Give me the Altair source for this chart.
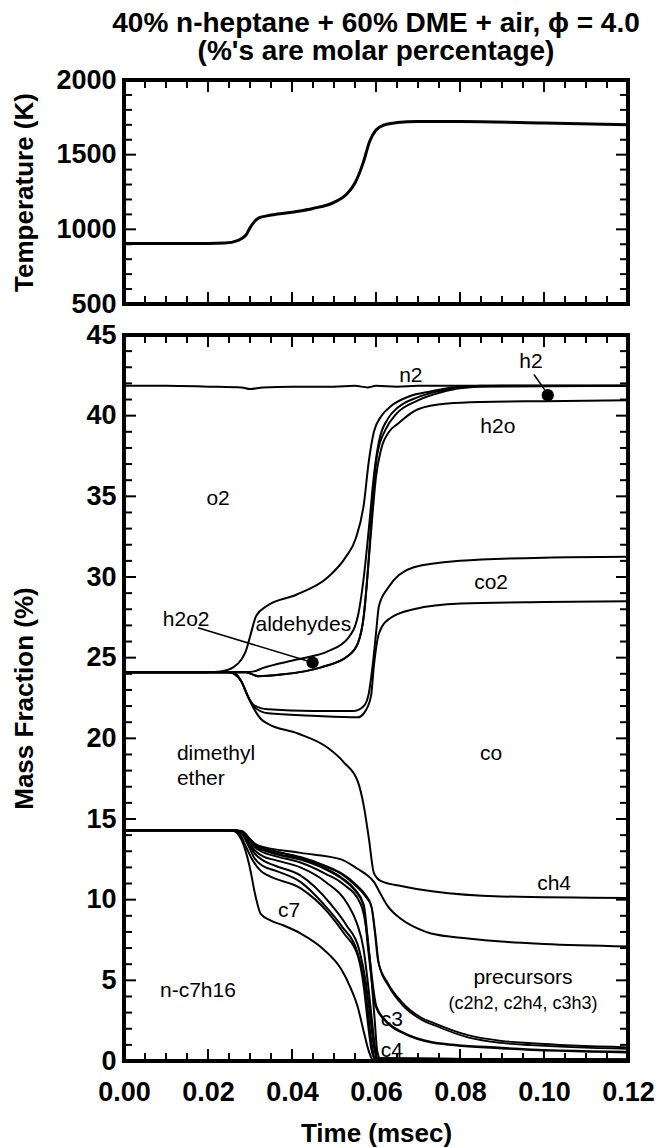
import altair as alt
import pandas as pd

W, H_TOP, H_BOT = 504, 224, 726
FONT = "Liberation Sans"

# ---------------- top panel: temperature ----------------
TEMP = [(0.0, 905), (0.020, 905), (0.024, 908), (0.027, 925), (0.029, 960), (0.030, 1010),
        (0.031, 1050), (0.032, 1075), (0.034, 1090), (0.040, 1115), (0.045, 1140),
        (0.050, 1180), (0.053, 1235), (0.055, 1310), (0.057, 1450), (0.0585, 1590),
        (0.060, 1665), (0.062, 1700), (0.065, 1715), (0.070, 1722), (0.080, 1722),
        (0.100, 1712), (0.120, 1700)]

# ---------------- bottom panel: cumulative mass fractions ----------------
N2 = [(0, 41.85), (0.010, 41.85), (0.020, 41.8), (0.028, 41.75), (0.030, 41.65), (0.033, 41.75),
      (0.040, 41.8), (0.050, 41.8), (0.055, 41.85), (0.058, 41.75), (0.060, 41.85), (0.065, 41.8),
      (0.070, 41.85), (0.080, 41.85), (0.100, 41.85), (0.120, 41.85)]
O2_LOW = [(0, 24.1), (0.020, 24.1), (0.023, 24.15), (0.026, 24.4), (0.028, 24.9), (0.029, 25.4),
          (0.030, 26.3), (0.0315, 27.6), (0.034, 28.2), (0.041, 28.9), (0.0486, 30.0), (0.0527, 31.2),
          (0.0552, 32.4), (0.0571, 34.5), (0.0583, 37.2), (0.0595, 39.0), (0.0612, 39.95),
          (0.0636, 40.6), (0.068, 41.2), (0.073, 41.5), (0.077, 41.7), (0.080, 41.8), (0.120, 41.85)]
ALD_LOW = [(0, 24.1), (0.029, 24.1), (0.031, 24.15), (0.033, 24.35), (0.0414, 24.9), (0.0486, 25.4),
           (0.0533, 26.2), (0.0557, 27.6), (0.0571, 30.0), (0.0583, 33.0), (0.0595, 36.3),
           (0.0607, 38.4), (0.0628, 39.8), (0.0652, 40.5), (0.070, 41.15), (0.0755, 41.55),
           (0.080, 41.75), (0.085, 41.85), (0.120, 41.85)]
H2_LOW = [(0, 24.1), (0.029, 24.1), (0.0319, 23.85), (0.0374, 23.95), (0.0469, 24.4), (0.0533, 25.1),
          (0.0557, 25.9), (0.0571, 27.6), (0.0581, 30.5), (0.0592, 34.8), (0.0603, 37.6),
          (0.0624, 39.2), (0.0648, 40.1), (0.070, 40.95), (0.0755, 41.45), (0.080, 41.7),
          (0.090, 41.85), (0.120, 41.85)]
H2O_TOP = [(0, 24.1), (0.029, 24.1), (0.0319, 23.85), (0.0374, 23.95), (0.0469, 24.4), (0.0533, 25.1),
           (0.0557, 25.9), (0.0571, 27.6), (0.0581, 30.5), (0.0593, 34.3), (0.060, 36.2),
           (0.0612, 37.9), (0.0631, 39.0), (0.0652, 39.5), (0.070, 40.4), (0.0771, 40.75),
           (0.085, 40.85), (0.100, 40.9), (0.120, 40.95)]
CO2_TOP = [(0, 24.1), (0.025, 24.1), (0.0265, 24.0), (0.028, 23.5), (0.0295, 22.6), (0.031, 22.05),
           (0.0343, 21.8), (0.045, 21.7), (0.0548, 21.7), (0.0571, 22.0), (0.0583, 22.8),
           (0.0592, 24.5), (0.060, 26.5), (0.0607, 28.2), (0.0628, 29.3), (0.069, 30.6),
           (0.080, 31.0), (0.100, 31.2), (0.120, 31.25)]
CO_TOP = [(0, 24.1), (0.025, 24.1), (0.0265, 24.0), (0.028, 23.5), (0.0295, 22.6), (0.031, 21.95),
          (0.0343, 21.55), (0.045, 21.4), (0.0557, 21.3), (0.0571, 21.55), (0.0588, 22.6),
          (0.0595, 24.5), (0.0607, 26.5), (0.0631, 27.4), (0.069, 28.0), (0.0802, 28.35),
          (0.100, 28.45), (0.120, 28.5)]
CH4_TOP = [(0, 24.1), (0.025, 24.1), (0.0262, 24.0), (0.028, 23.5), (0.0295, 22.6), (0.0302, 22.2),
           (0.0326, 21.2), (0.0343, 20.9), (0.0414, 20.3), (0.0486, 19.4), (0.0524, 18.5),
           (0.0557, 17.3), (0.0571, 15.8), (0.0583, 13.8), (0.0595, 11.65), (0.0612, 11.15),
           (0.066, 10.85), (0.0738, 10.5), (0.0898, 10.2), (0.120, 10.1)]
PREC_TOP = [(0, 14.3), (0.026, 14.3), (0.028, 14.25), (0.0295, 13.9), (0.0302, 13.6), (0.032, 13.35),
            (0.0421, 12.9), (0.0517, 12.5), (0.0557, 11.9), (0.0575, 11.6), (0.0595, 11.1),
            (0.0612, 10.3), (0.0628, 9.6), (0.066, 8.8), (0.070, 8.2), (0.0731, 7.9),
            (0.0819, 7.6), (0.0898, 7.4), (0.100, 7.25), (0.120, 7.1)]
C3_TOP_A = [(0, 14.3), (0.026, 14.3), (0.028, 14.2), (0.0295, 13.9), (0.031, 13.5), (0.033, 13.2),
            (0.036, 13.0), (0.042, 12.65), (0.048, 12.1), (0.052, 11.6), (0.055, 11.0),
            (0.0575, 10.3), (0.0588, 9.7), (0.0597, 8.0), (0.0605, 6.2), (0.0629, 4.8),
            (0.066, 3.7), (0.0707, 2.7), (0.0738, 2.35), (0.0819, 1.6), (0.0898, 1.25),
            (0.097, 1.1), (0.120, 0.85)]
C3_TOP_B = [(0, 14.3), (0.026, 14.3), (0.028, 14.2), (0.0295, 13.9), (0.031, 13.5), (0.033, 13.2),
            (0.036, 13.0), (0.042, 12.6), (0.048, 12.05), (0.052, 11.55), (0.055, 10.9),
            (0.0575, 10.2), (0.0590, 9.5), (0.0599, 7.8), (0.0607, 6.0), (0.0631, 4.6),
            (0.0662, 3.5), (0.0709, 2.55), (0.0740, 2.2), (0.0821, 1.45), (0.0900, 1.12),
            (0.097, 0.98), (0.120, 0.75)]
C4_TOP = [(0, 14.3), (0.026, 14.3), (0.028, 14.2), (0.0295, 13.85), (0.031, 13.4), (0.033, 13.1),
          (0.036, 12.85), (0.042, 12.5), (0.048, 11.9), (0.052, 11.3), (0.055, 10.6), (0.057, 9.7),
          (0.0583, 6.7), (0.0600, 3.4), (0.0619, 2.6), (0.0640, 2.1), (0.066, 1.8), (0.0735, 1.15),
          (0.090, 0.8), (0.120, 0.55)]
B6 = [(0, 14.3), (0.026, 14.3), (0.028, 14.2), (0.0295, 13.8), (0.031, 13.3), (0.033, 12.95),
      (0.036, 12.7), (0.042, 12.3), (0.048, 11.6), (0.052, 11.0), (0.0564, 9.7), (0.0578, 8.0),
      (0.0588, 5.5), (0.0597, 2.5), (0.0603, 0.6), (0.061, 0.15), (0.120, 0.08)]
B5 = [(0, 14.3), (0.026, 14.3), (0.028, 14.2), (0.0295, 13.7), (0.031, 13.1), (0.033, 12.7),
      (0.036, 12.45), (0.042, 12.0), (0.048, 11.1), (0.0533, 9.7), (0.0555, 8.5), (0.057, 7.0),
      (0.058, 5.0), (0.059, 2.6), (0.0598, 0.8), (0.0605, 0.15), (0.120, 0.08)]
B4 = [(0, 14.3), (0.026, 14.3), (0.028, 14.15), (0.0295, 13.6), (0.031, 12.9), (0.033, 12.45),
      (0.036, 12.1), (0.042, 11.5), (0.0493, 9.7), (0.053, 8.4), (0.056, 6.9), (0.0575, 5.0),
      (0.0585, 3.0), (0.0595, 0.9), (0.0602, 0.15), (0.120, 0.08)]
B3 = [(0, 14.3), (0.026, 14.3), (0.028, 14.1), (0.0295, 13.4), (0.031, 12.6), (0.033, 12.1),
      (0.036, 11.8), (0.042, 11.1), (0.0476, 9.7), (0.052, 8.3), (0.0555, 6.8), (0.057, 5.2),
      (0.058, 3.2), (0.059, 1.0), (0.0598, 0.15), (0.120, 0.08)]
C7_TOP = [(0, 14.3), (0.026, 14.3), (0.0275, 14.1), (0.029, 13.3), (0.0305, 12.5), (0.0325, 11.8),
          (0.0343, 11.5), (0.0421, 10.7), (0.0486, 9.2), (0.0524, 7.9), (0.0557, 6.5),
          (0.0571, 4.6), (0.058, 2.5), (0.059, 0.6), (0.0598, 0.1), (0.120, 0.08)]
NC7_TOP = [(0, 14.3), (0.025, 14.3), (0.0262, 14.25), (0.0286, 13.3), (0.0302, 11.7), (0.031, 10.6),
           (0.0326, 9.1), (0.035, 8.7), (0.038, 8.4), (0.0421, 7.9), (0.0476, 6.9), (0.0517, 5.7),
           (0.054, 4.5), (0.0557, 3.3), (0.0571, 1.8), (0.0583, 0.6), (0.0592, 0.1), (0.120, 0.08)]

LINES = [("n2", N2, 2), ("o2", O2_LOW, 2), ("ald", ALD_LOW, 2), ("h2", H2_LOW, 2),
         ("h2o", H2O_TOP, 2), ("co2", CO2_TOP, 2), ("co", CO_TOP, 2), ("ch4", CH4_TOP, 2),
         ("prec", PREC_TOP, 2), ("c3a", C3_TOP_A, 1.8), ("c3b", C3_TOP_B, 1.8), ("c4", C4_TOP, 2.6),
         ("b6", B6, 2), ("b5", B5, 2), ("b4", B4, 2), ("b3", B3, 2), ("c7", C7_TOP, 2),
         ("nc7", NC7_TOP, 2)]

# labels: (text, t, value, size)
LABELS = [("n2", 0.0683, 42.45, 21), ("h2", 0.0969, 43.3, 21), ("h2o", 0.0890, 39.3, 21),
          ("o2", 0.0224, 34.85, 21), ("co2", 0.0874, 29.6, 21), ("h2o2", 0.0148, 27.35, 21),
          ("aldehydes", 0.0427, 27.05, 21), ("dimethyl", 0.0219, 19.05, 21),
          ("ether", 0.0183, 17.45, 21), ("co", 0.0874, 19.0, 21), ("ch4", 0.1024, 10.95, 21),
          ("c7", 0.0393, 9.3, 21), ("n-c7h16", 0.0176, 4.35, 21), ("precursors", 0.0950, 5.15, 21),
          ("(c2h2, c2h4, c3h3)", 0.0950, 3.55, 18), ("c3", 0.0638, 2.55, 21), ("c4", 0.0638, 0.65, 21)]

# leader lines: (t1, v1, t2, v2) and markers
LEADERS = [(0.0176, 26.85, 0.0449, 24.7), (0.0976, 42.55, 0.1002, 41.6)]
MARKERS = [(0.0449, 24.7), (0.1009, 41.27)]

X_MAJOR = [0.00, 0.02, 0.04, 0.06, 0.08, 0.10, 0.12]
X_MINOR = [0.005, 0.01, 0.015, 0.025, 0.03, 0.035, 0.045, 0.05, 0.055, 0.065, 0.07, 0.075,
           0.085, 0.09, 0.095, 0.105, 0.11, 0.115]
T_MAJOR = [500, 1000, 1500, 2000]
T_MINOR = [600, 700, 800, 900, 1100, 1200, 1300, 1400, 1600, 1700, 1800, 1900]
M_MAJOR = [0, 5, 10, 15, 20, 25, 30, 35, 40, 45]
M_MINOR = [v for v in range(0, 46) if v % 5 != 0]

X0, X1 = 0.0, 0.12
XS = alt.Scale(domain=[X0, X1], nice=False, zero=False)
MAJ, MIN = 12, 8  # tick lengths in px


def tick_frame(y0, y1, h, ymajor, yminor):
    """inward tick segments expressed in data units of the panel's scales"""
    xu = (X1 - X0) / W
    yu = (y1 - y0) / h
    rows = []
    for vals, ln in ((X_MAJOR, MAJ), (X_MINOR, MIN)):
        for t in vals:
            rows.append((float(t), float(t), float(y0), float(y0 + ln * yu)))
            rows.append((float(t), float(t), float(y1), float(y1 - ln * yu)))
    for vals, ln in ((ymajor, MAJ), (yminor, MIN)):
        for v in vals:
            rows.append((X0, X0 + ln * xu, float(v), float(v)))
            rows.append((X1, X1 - ln * xu, float(v), float(v)))
    return pd.DataFrame(rows, columns=["t", "t2", "v", "v2"])


def tick_layer(df, yscale):
    return alt.Chart(df).mark_rule(color="black", strokeWidth=2).encode(
        x=alt.X("t:Q", scale=XS), x2="t2:Q", y=alt.Y("v:Q", scale=yscale), y2="v2:Q")


# ---- top chart ----
temp_df = pd.DataFrame(TEMP, columns=["t", "v"])
TS = alt.Scale(domain=[500, 2000], nice=False, zero=False)
temp_line = alt.Chart(temp_df).mark_line(color="black", strokeWidth=3, interpolate="monotone").encode(
    x=alt.X("t:Q", scale=XS, axis=None),
    y=alt.Y("v:Q", scale=TS, axis=alt.Axis(values=T_MAJOR, format="d", title="Temperature (K)",
                                            titleX=-100, titleBaseline="middle", labelPadding=8)),
)
top = alt.layer(temp_line, tick_layer(tick_frame(500, 2000, H_TOP, T_MAJOR, T_MINOR), TS)).properties(
    width=W, height=H_TOP,
    title=alt.TitleParams(
        text=["40% n-heptane + 60% DME + air, \u03d5 = 4.0", "(%'s are molar percentage)"],
        font=FONT, fontSize=28, fontWeight="bold", color="black", anchor="middle",
        frame="group", offset=0, lineHeight=28),
)

# ---- bottom chart ----
rows = []
for name, pts, w in LINES:
    for t, v in pts:
        rows.append({"line": name, "t": t, "v": v, "w": w})
lines_df = pd.DataFrame(rows)
MS = alt.Scale(domain=[0, 45], nice=False, zero=False)

mass_lines = alt.Chart(lines_df).mark_line(color="black", interpolate="monotone").encode(
    x=alt.X("t:Q", scale=XS, axis=alt.Axis(values=X_MAJOR, format=".2f", title="Time (msec)",
                                           labelPadding=18, titlePadding=15)),
    y=alt.Y("v:Q", scale=MS, axis=alt.Axis(values=M_MAJOR, format="d", title="Mass Fraction (%)",
                                           titleX=-100, titleBaseline="middle", labelPadding=8)),
    detail="line:N",
    strokeWidth=alt.StrokeWidth("w:Q", scale=None),
)

lab_df = pd.DataFrame(LABELS, columns=["label", "t", "v", "size"])
labels = alt.Chart(lab_df).mark_text(font=FONT, color="black", align="center", baseline="middle").encode(
    x=alt.X("t:Q", scale=XS), y=alt.Y("v:Q", scale=MS), text="label:N",
    size=alt.Size("size:Q", scale=None))

lead_df = pd.DataFrame(LEADERS, columns=["t", "v", "t2", "v2"])
leaders = alt.Chart(lead_df).mark_rule(color="black", strokeWidth=1.5).encode(
    x=alt.X("t:Q", scale=XS), y=alt.Y("v:Q", scale=MS), x2="t2:Q", y2="v2:Q")

mk_df = pd.DataFrame(MARKERS, columns=["t", "v"])
markers = alt.Chart(mk_df).mark_circle(color="black", size=150, opacity=1).encode(
    x=alt.X("t:Q", scale=XS), y=alt.Y("v:Q", scale=MS))

bottom = alt.layer(mass_lines, leaders, markers, labels,
                   tick_layer(tick_frame(0, 45, H_BOT, M_MAJOR, M_MINOR), MS)).properties(
    width=W, height=H_BOT)

chart = alt.vconcat(top, bottom, spacing=0).properties(padding=0).configure_view(
    stroke="black", strokeWidth=4
).configure_axis(
    domain=False, ticks=False, grid=False, labelFont=FONT, labelFontSize=27, labelFontWeight="bold",
    labelColor="black", titleFont=FONT, titleFontSize=26, titleFontWeight="bold", titleColor="black",
    labelFlush=False, labelOverlap=False
).configure_concat(spacing=0)

chart.save("out.html", embed_options={"renderer": "svg", "actions": False})
